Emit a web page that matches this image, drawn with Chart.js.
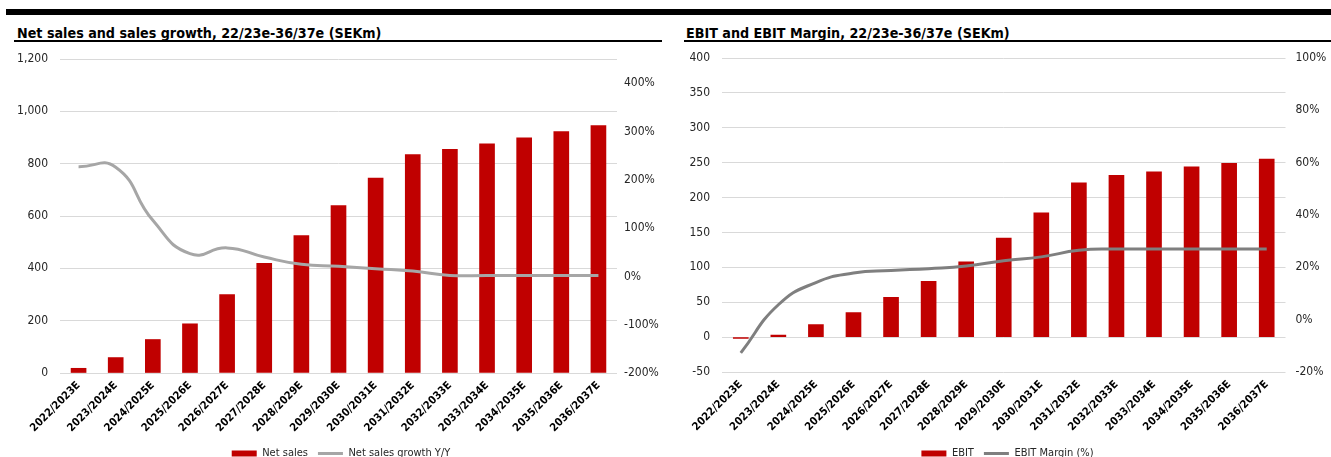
<!DOCTYPE html>
<html>
<head>
<meta charset="utf-8">
<script src="https://cdn.jsdelivr.net/npm/chart.js@4"></script>
<style>
    html, body { margin: 0; padding: 0; background: #fff; }
    body { width: 1331px; height: 457px; overflow: hidden; position: relative;
           font-family: 'DejaVu Sans Condensed', sans-serif; }
    .topbar { position: absolute; left: 6px; top: 9px; width: 1325px; height: 6px; background: #000; }
    .title { position: absolute; top: 25px; font-size: 14.2px; font-weight: bold; color: #000;
             white-space: nowrap; line-height: 17px; }
    .rule { position: absolute; top: 40px; height: 2px; background: #000; }
    .box { position: absolute; top: 45px; height: 424px; }
</style>
</head>
<body>
<div class="topbar"></div>
<div class="title" style="left:17px">Net sales and sales growth, 22/23e-36/37e (SEKm)</div>
<div class="rule" style="left:14px;width:648px"></div>
<div class="title" style="left:686px">EBIT and EBIT Margin, 22/23e-36/37e (SEKm)</div>
<div class="rule" style="left:684px;width:647px"></div>
<div class="box" style="left:0;width:682px"><canvas id="salesChart"></canvas></div>
<div class="box" style="left:665px;width:685px"><canvas id="ebitChart"></canvas></div>

<script>
// Data (SEKm)
const years = ['2022/2023E', '2023/2024E', '2024/2025E', '2025/2026E', '2026/2027E',
    '2027/2028E', '2028/2029E', '2029/2030E', '2030/2031E', '2031/2032E',
    '2032/2033E', '2033/2034E', '2034/2035E', '2035/2036E', '2036/2037E'];
const netSales = [18, 59, 128, 188, 300, 419, 525, 640, 745, 835, 855, 876, 899, 923, 946];
const salesGrowth = [2.27, 2.26, 1.16, 0.47, 0.59, 0.40, 0.25, 0.21, 0.16, 0.11, 0.02, 0.02, 0.02, 0.02, 0.02];
const ebit = [-2, 3, 18, 35, 57, 80, 108, 142, 178, 221, 232, 237, 244, 249, 255];
const ebitMargin = [-0.127, 0.057, 0.142, 0.178, 0.188, 0.195, 0.205, 0.225, 0.24, 0.265, 0.27, 0.27, 0.27, 0.27, 0.27];

// Axis ranges [min, max, step]
const salesAxis = [0, 1200, 200];
const growthAxis = [-2, 4.5, 1];
const ebitAxis = [-50, 400, 50];
const marginAxis = [-0.2, 1.0, 0.2];

const FONT = "'DejaVu Sans Condensed', sans-serif";
const RED = '#c00000';
const GRID = '#d9d9d9';

// fixed axis size, and keep tick padding from pushing the plot area down
function fixWidth(w) {
    return s => { s.width = w; s.paddingTop = 7; s.paddingBottom = 7; };
}

function createChart(id, cfg) {
    const ctx = document.getElementById(id).getContext('2d');
    const step = cfg.rightAxis[2];
    return new Chart(ctx, {
        data: {
            labels: years,
            datasets: [{
                type: 'bar',
                label: cfg.barLabel,
                data: cfg.barData,
                backgroundColor: RED,
                barThickness: 15,
                yAxisID: 'y',
                order: 1
            }, {
                type: 'line',
                label: cfg.lineLabel,
                data: cfg.lineData,
                borderColor: cfg.lineColor,
                backgroundColor: cfg.lineColor,
                borderWidth: 3,
                pointRadius: 0,
                tension: 0.5,
                yAxisID: 'y1',
                order: 0
            }]
        },
        options: {
            responsive: true,
            maintainAspectRatio: false,
            animation: false,
            layout: { padding: { top: cfg.top, left: 0, right: 0, bottom: 0 } },
            scales: {
                x: {
                    afterFit: s => { s.height = cfg.xHeight; },
                    grid: { display: false, drawTicks: false },
                    border: { display: false },
                    ticks: {
                        autoSkip: false, minRotation: 45, maxRotation: 45, padding: 6,
                        color: '#000', font: { family: FONT, size: 11, weight: 'bold' }
                    }
                },
                y: {
                    position: 'left',
                    min: cfg.leftAxis[0], max: cfg.leftAxis[1],
                    afterFit: fixWidth(cfg.leftWidth),
                    grid: { color: GRID, drawTicks: false },
                    border: { display: false },
                    ticks: {
                        stepSize: cfg.leftAxis[2], padding: cfg.leftPad, color: '#262626',
                        font: { family: FONT, size: 12 },
                        callback: v => v.toLocaleString('en-US')
                    }
                },
                y1: {
                    position: 'right',
                    min: cfg.rightAxis[0], max: cfg.rightAxis[1],
                    afterFit: fixWidth(cfg.rightWidth),
                    grid: { display: false, drawTicks: false },
                    border: { display: false },
                    ticks: {
                        stepSize: step, padding: cfg.rightPad, color: '#262626',
                        font: { family: FONT, size: 12 },
                        callback: v => {
                            const k = v / step;
                            if (Math.abs(k - Math.round(k)) > 1e-6) return null;
                            return Math.round(v * 100) + '%';
                        }
                    }
                }
            },
            plugins: {
                tooltip: { enabled: false },
                legend: {
                    position: 'bottom',
                    labels: {
                        usePointStyle: true,
                        pointStyleWidth: 25,
                        boxHeight: 6,
                        padding: 10,
                        color: '#262626',
                        font: { family: FONT, size: 11 },
                        generateLabels: chart => Chart.defaults.plugins.legend.labels.generateLabels(chart)
                            .sort((a, b) => a.datasetIndex - b.datasetIndex)
                            .map(l => ({ ...l, pointStyle: l.datasetIndex === 0 ? 'rect' : 'line' }))
                    }
                }
            }
        }
    });
}

createChart('salesChart', {
    barLabel: 'Net sales', barData: netSales,
    lineLabel: 'Net sales growth Y/Y', lineData: salesGrowth, lineColor: '#a6a6a6',
    leftAxis: salesAxis, rightAxis: growthAxis,
    top: 14, xHeight: 65, leftWidth: 60, leftPad: 12, rightWidth: 65, rightPad: 7
});

createChart('ebitChart', {
    barLabel: 'EBIT', barData: ebit,
    lineLabel: 'EBIT Margin (%)', lineData: ebitMargin, lineColor: '#7f7f7f',
    leftAxis: ebitAxis, rightAxis: marginAxis,
    top: 13, xHeight: 66, leftWidth: 57, leftPad: 12, rightWidth: 64.5, rightPad: 10
});
</script>
</body>
</html>
